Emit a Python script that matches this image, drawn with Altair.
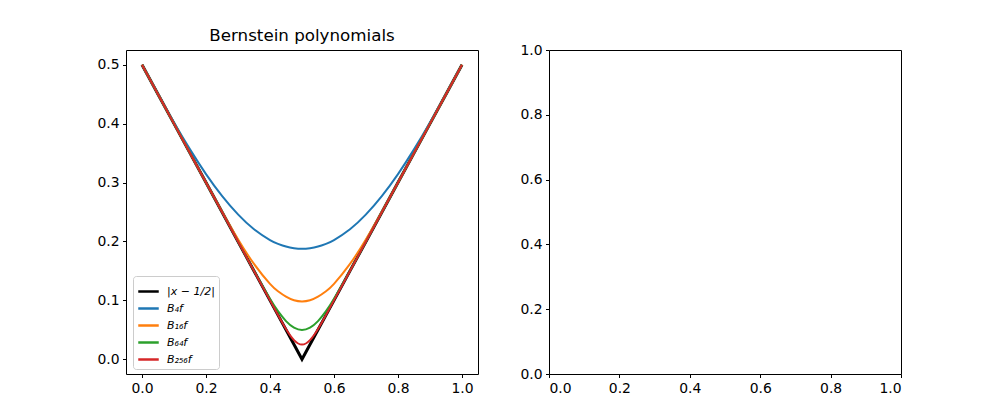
import altair as alt
import pandas as pd

# Sample points along x (denser near the minimum at 0.5).
x_vals = [0.0, 0.05, 0.1, 0.15, 0.2, 0.25, 0.3, 0.35, 0.4, 0.425, 0.45, 0.475, 0.5,
          0.525, 0.55, 0.575, 0.6, 0.65, 0.7, 0.75, 0.8, 0.85, 0.9, 0.95, 1.0]

# Values.
f_vals = [0.5, 0.45, 0.4, 0.35, 0.3, 0.25, 0.2, 0.15, 0.1, 0.075, 0.05, 0.025, 0.0,
          0.025, 0.05, 0.075, 0.1, 0.15, 0.2, 0.25, 0.3, 0.35, 0.4, 0.45, 0.5]
b4_vals = [0.5, 0.4503, 0.4019, 0.3563, 0.3144, 0.2774, 0.2459, 0.2207, 0.2024, 0.1959, 0.1913, 0.1885, 0.1875,
           0.1885, 0.1913, 0.1959, 0.2024, 0.2207, 0.2459, 0.2774, 0.3144, 0.3563, 0.4019, 0.4503, 0.5]
b16_vals = [0.5, 0.45, 0.4, 0.35, 0.3001, 0.2508, 0.2037, 0.1618, 0.1280, 0.1155, 0.1062, 0.1002, 0.0982,
            0.1002, 0.1062, 0.1155, 0.1280, 0.1618, 0.2037, 0.2508, 0.3001, 0.35, 0.4, 0.45, 0.5]
b64_vals = [0.5, 0.45, 0.4, 0.35, 0.3, 0.25, 0.2, 0.1502, 0.1027, 0.0817, 0.0648, 0.0538, 0.0499,
            0.0538, 0.0648, 0.0817, 0.1027, 0.1502, 0.2, 0.25, 0.3, 0.35, 0.4, 0.45, 0.5]
b256_vals = [0.5, 0.45, 0.4, 0.35, 0.3, 0.25, 0.2, 0.15, 0.1000, 0.0752, 0.0514, 0.0325, 0.0249,
             0.0325, 0.0514, 0.0752, 0.1000, 0.15, 0.2, 0.25, 0.3, 0.35, 0.4, 0.45, 0.5]

names = ["|x − 1/2|", "B₄f", "B₁₆f", "B₆₄f", "B₂₅₆f"]
colors = ["black", "#1f77b4", "#ff7f0e", "#2ca02c", "#d62728"]

rows = []
for name, ys in zip(names, [f_vals, b4_vals, b16_vals, b64_vals, b256_vals]):
    for xv, yv in zip(x_vals, ys):
        rows.append({"x": xv, "y": yv, "series": name})
df = pd.DataFrame(rows)

tick_left_y = [0.0, 0.1, 0.2, 0.3, 0.4, 0.5]
tick_01 = [0.0, 0.2, 0.4, 0.6, 0.8, 1.0]

color = alt.Color("series:N", scale=alt.Scale(domain=names, range=colors),
                  legend=alt.Legend(title=None, orient="none", legendX=7, legendY=226))

x_left = alt.X("x:Q", scale=alt.Scale(domain=[-0.05, 1.05], nice=False, zero=False),
               axis=alt.Axis(values=tick_01, format=".1f", title=None))
y_left = alt.Y("y:Q", scale=alt.Scale(domain=[-0.025, 0.525], nice=False, zero=False),
               axis=alt.Axis(values=tick_left_y, format=".1f", title=None))

# Target function, drawn with straight segments.
target = alt.Chart(df[df.series == names[0]]).mark_line(strokeWidth=3).encode(
    x=x_left, y=y_left, color=color
)

# Bernstein approximations, smooth.
approx = alt.Chart(df[df.series != names[0]]).mark_line(strokeWidth=2, interpolate="natural").encode(
    x=x_left, y=y_left, color=color, order=alt.Order("x:Q")
)

left = (target + approx).properties(width=352, height=324, title="Bernstein polynomials")

# Empty second axes.
empty = pd.DataFrame({"x": pd.Series([], dtype=float), "y": pd.Series([], dtype=float)})
right = alt.Chart(empty).mark_point().encode(
    x=alt.X("x:Q", scale=alt.Scale(domain=[0, 1], nice=False),
            axis=alt.Axis(values=tick_01, format=".1f", title=None)),
    y=alt.Y("y:Q", scale=alt.Scale(domain=[0, 1], nice=False),
            axis=alt.Axis(values=tick_01, format=".1f", title=None)),
).properties(width=352, height=324)

chart = alt.hconcat(left, right, spacing=71, bounds="flush").configure(
    padding={"left": 88, "top": 19, "right": 5, "bottom": 5},
    font="DejaVu Sans",
).configure_view(
    stroke="black", strokeWidth=1
).configure_axis(
    domain=False, grid=False, tickColor="black", tickSize=3.5, tickWidth=1,
    labelPadding=3.5, labelFontSize=13.9, labelColor="black", labelFont="DejaVu Sans"
).configure_title(
    fontSize=16.7, fontWeight="normal", font="DejaVu Sans", color="black", offset=5
).configure_legend(
    symbolType="stroke", symbolSize=420, symbolStrokeWidth=2.5, labelFontSize=11,
    labelFont="DejaVu Sans", labelFontStyle="italic", labelColor="black",
    strokeColor="#cccccc", fillColor="white", padding=4, cornerRadius=3,
    rowPadding=0, labelOffset=7
)

chart.save("out.html", embed_options={"renderer": "svg", "actions": False})
